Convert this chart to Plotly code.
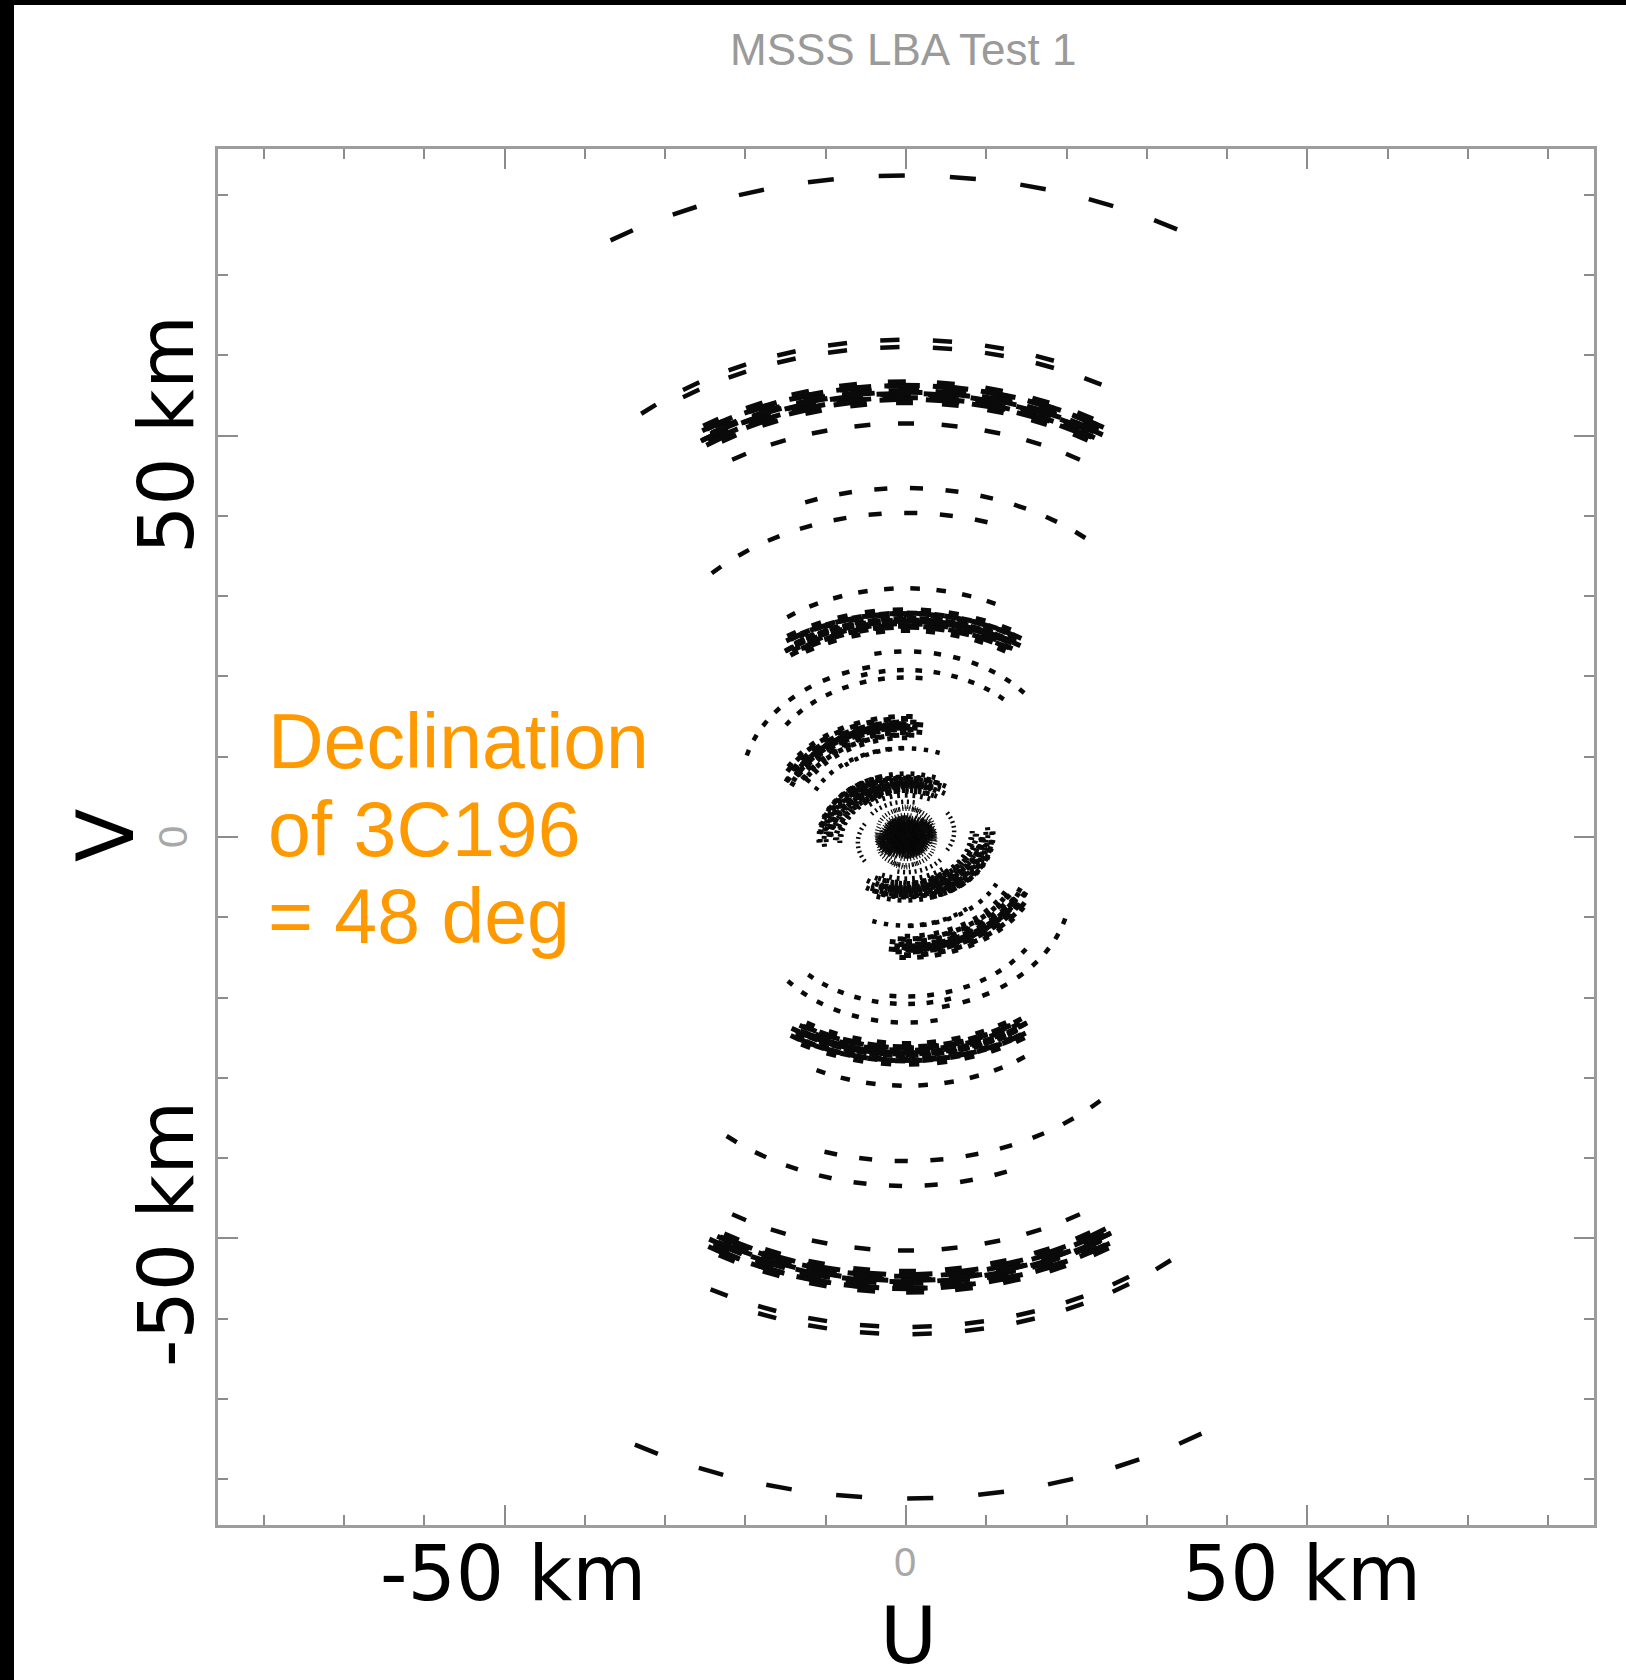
import numpy as np
import plotly.graph_objects as go

# ---------------------------------------------------------------------------
# Observation set-up
# ---------------------------------------------------------------------------
DEC_DEG = 48.0                      # declination of 3C196
snapshot_ha_hours = [-2.0, -1.5, -1.0, -0.5, 0.0, 0.5, 1.0, 1.5, 2.0]
snapshot_minutes = 11.0             # length of each snapshot

# Single baselines (remote-remote and short core tracks):
# equatorial baseline length, hour-angle phase, v-centre of the uv ellipse
track_len_km = [67.8, 50.1, 50.1, 41.6, 34.0, 34.0, 25.0, 19.0, 20.5, 17.5,
                18.0, 12.5, 11.5, 6.0, 5.5,
                3.0, 3.5, 3.5, 2.4]
track_phase_deg = [-1.5, -2.3, -9.8, 0.0, 9.7, -14.0, -4.9, 19.4, -44.0, 12.7,
                   -24.8, -33.0, -10.0, -90.0, -20.0,
                   0.0, -45.0, 45.0, 20.0]
track_centre_km = [32.0, 23.8, 24.7, 20.6, 18.2, 15.1, 12.4, 9.0, 6.3, 7.8,
                   6.5, 1.8, 2.5, -0.7, 0.3,
                   1.3, 0.9, 0.9, 2.0]

# Core-to-remote baselines (one track for every core station)
remote_len_km = [45.2, 25.3, 15.5, 9.5, 8.8]
remote_phase_deg = [-1.0, -1.5, -30.0, -55.0, -10.0]
remote_centre_km = [21.8, 8.2, 2.2, -0.3, 0.0]

# Core station offsets in the equatorial frame (km)
core_x_km = [0.00, 0.10, -0.12, 0.06, -0.08, 0.14, 0.75, -0.70, 0.95, -0.85,
             0.30, -0.35, 1.30, -1.25, 0.50, -0.40, 1.10, -1.10, 0.20, -0.15,
             1.45, -1.40, 0.60, -0.55]
core_y_km = [0.00, 0.15, 0.08, -0.13, -0.10, -0.05, 0.95, 1.20, -0.80, -1.05,
             1.75, -1.80, 0.30, 0.25, -0.45, 0.55, 1.40, -1.45, -1.30, 1.35,
             -0.35, 0.60, 0.30, -0.30]
core_z_km = [0.00, 0.05, -0.04, 0.07, -0.03, -0.08, 0.25, -0.20, 0.20, 0.25,
             -0.30, 0.10, -0.20, 0.30, 0.70, -0.75, 0.10, -0.15, -0.60, 0.65,
             0.35, -0.35, -0.90, 0.95]

# ---------------------------------------------------------------------------
# uv tracks
# ---------------------------------------------------------------------------
sin_d = np.sin(np.radians(DEC_DEG))
cos_d = np.cos(np.radians(DEC_DEG))
half_deg = snapshot_minutes * 0.25 / 2.0


def uv_dashes(X, Y, v0):
    """One dash per snapshot, plus the conjugate (-u, -v) dash."""
    us, vs = [], []
    for h in snapshot_ha_hours:
        ha = np.radians(np.linspace(h * 15 - half_deg, h * 15 + half_deg, 5))
        u = X * np.sin(ha) + Y * np.cos(ha)
        v = v0 + sin_d * (X * np.cos(ha) - Y * np.sin(ha))
        for s in (1.0, -1.0):
            us += list(s * u) + [None]
            vs += list(s * v) + [None]
    return us, vs


thin_u, thin_v = [], []
for b, ph, c in zip(track_len_km, track_phase_deg, track_centre_km):
    u, v = uv_dashes(b * np.cos(np.radians(ph)), b * np.sin(np.radians(ph)), c)
    thin_u += u
    thin_v += v

remote_u, remote_v = [], []
for b, ph, c in zip(remote_len_km, remote_phase_deg, remote_centre_km):
    X0, Y0 = b * np.cos(np.radians(ph)), b * np.sin(np.radians(ph))
    for cx, cy, cz in zip(core_x_km, core_y_km, core_z_km):
        u, v = uv_dashes(X0 + cx, Y0 + cy, c + cz * cos_d)
        remote_u += u
        remote_v += v

core_u, core_v = [], []
n_core = len(core_x_km)
for i in range(n_core):
    for j in range(i + 1, n_core):
        u, v = uv_dashes(core_x_km[i] - core_x_km[j],
                         core_y_km[i] - core_y_km[j],
                         (core_z_km[i] - core_z_km[j]) * cos_d)
        core_u += u
        core_v += v

# ---------------------------------------------------------------------------
# Figure
# ---------------------------------------------------------------------------
W, H = 1626, 1680
ML, MR, MT, MB = 218, 32, 149, 155
PW, PH = W - ML - MR, H - MT - MB
RANGE = 85.7


def px(x):
    return (x - ML) / PW


def py(y):
    return (H - MB - y) / PH


fig = go.Figure()
for uu, vv, lw in ((thin_u, thin_v, 4.5), (remote_u, remote_v, 5),
                   (core_u, core_v, 5)):
    fig.add_trace(go.Scatter(x=uu, y=vv, mode="lines",
                             line=dict(color="#0a0a0a", width=lw),
                             hoverinfo="skip", showlegend=False))

axis_common = dict(
    range=[-RANGE, RANGE], showgrid=False, zeroline=False,
    showline=True, linecolor="#9d9d9d", linewidth=2.5, mirror="allticks",
    ticks="inside", tickvals=[-50, 0, 50], ticklen=20, tickwidth=2,
    tickcolor="#8c8c8c", showticklabels=False, fixedrange=True,
    minor=dict(ticks="inside", dtick=10, tick0=0, ticklen=10, tickwidth=2,
               tickcolor="#8c8c8c"),
)

big = dict(family="DejaVu Sans", size=76, color="black")
grey_small = dict(family="Liberation Sans", size=40, color="#a8a8a8")
orange = dict(family="Liberation Sans", size=77, color="#FF9900")

annotations = [
    dict(text="MSSS LBA Test 1", x=px(903), y=py(50),
         font=dict(family="Liberation Sans", size=44, color="#9a9a9a")),
    dict(text="-50 km", x=px(513), y=py(1574), font=big),
    dict(text="0", x=px(905), y=py(1562), font=grey_small),
    dict(text="50 km", x=px(1301), y=py(1574), font=big),
    dict(text="U", x=px(908), y=py(1636), font=dict(big, size=78)),
    dict(text="50 km", x=px(166), y=py(435), font=big, textangle=-90),
    dict(text="-50 km", x=px(166), y=py(1234), font=big, textangle=-90),
    dict(text="V", x=px(106), y=py(835), font=dict(big, size=78), textangle=-90),
    dict(text="0", x=px(173), y=py(837), font=grey_small, textangle=-90),
    dict(text="Declination", x=px(266), y=py(741), font=orange, xanchor="left"),
    dict(text="of 3C196", x=px(266), y=py(829), font=orange, xanchor="left"),
    dict(text="= 48 deg", x=px(266), y=py(916), font=orange, xanchor="left"),
]
for a in annotations:
    a.setdefault("xanchor", "center")
    a.update(xref="paper", yref="paper", yanchor="middle", showarrow=False)

shapes = [
    dict(type="rect", xref="paper", yref="paper", x0=px(-5), x1=px(14),
         y0=py(H + 5), y1=py(-5), fillcolor="black", line=dict(width=0),
         layer="above"),
    dict(type="rect", xref="paper", yref="paper", x0=px(-5), x1=px(W + 5),
         y0=py(5), y1=py(-5), fillcolor="black", line=dict(width=0),
         layer="above"),
]

fig.update_layout(
    width=W, height=H, autosize=False,
    margin=dict(l=ML, r=MR, t=MT, b=MB, pad=0),
    paper_bgcolor="white", plot_bgcolor="white",
    xaxis=axis_common, yaxis=axis_common,
    annotations=annotations, shapes=shapes,
)

fig.write_html("out.html")
